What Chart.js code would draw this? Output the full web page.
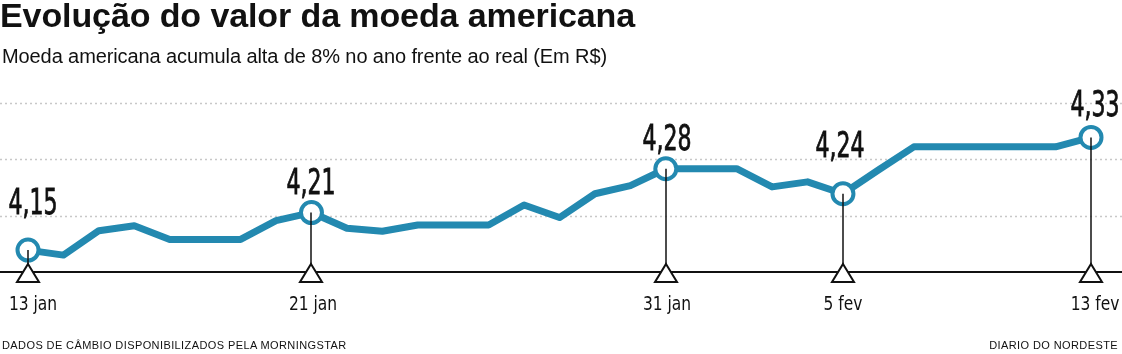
<!DOCTYPE html>
<html lang="pt-BR">
<head>
<meta charset="utf-8">
<script src="https://cdn.jsdelivr.net/npm/chart.js@4.4.1/dist/chart.umd.min.js"></script>
<style>
body { margin: 0; background: #fff; }
#wrap { position: relative; width: 1122px; height: 354px; overflow: hidden; }
#wrap canvas { position: absolute; left: 0; top: 0; }
.titulo { position: absolute; left: 0; top: -4px; font: 700 34px "Liberation Sans", Arial, sans-serif; letter-spacing: -0.1px; color: #111; white-space: nowrap; }
.sub { position: absolute; left: 2px; top: 45px; font: 400 20px "Liberation Sans", Arial, sans-serif; letter-spacing: -0.1px; color: #111; white-space: nowrap; }
.fonte { position: absolute; top: 339px; font: 400 11px "Liberation Sans", Arial, sans-serif; letter-spacing: 0.4px; color: #111; white-space: nowrap; }
</style>
</head>
<body>
<div id="wrap">
    <canvas id="dolar" width="1122" height="354"></canvas>
    <div class="titulo">Evolução do valor da moeda americana</div>
    <div class="sub">Moeda americana acumula alta de 8% no ano frente ao real (Em R$)</div>
    <div class="fonte" style="left:2px">DADOS DE CÂMBIO DISPONIBILIZADOS PELA MORNINGSTAR</div>
    <div class="fonte" style="right:4px">DIARIO DO NORDESTE</div>
</div>
<script>
// start: Dados
const dias = [
    '13 jan', '14 jan', '15 jan', '16 jan', '17 jan', '18 jan', '19 jan', '20 jan', '21 jan',
    '22 jan', '23 jan', '24 jan', '25 jan', '26 jan', '27 jan', '28 jan', '29 jan', '30 jan', '31 jan',
    '1 fev', '2 fev', '3 fev', '4 fev', '5 fev', '6 fev', '7 fev', '8 fev', '9 fev', '10 fev', '11 fev', '13 fev'
];
const cotacao = [
    4.15, 4.142, 4.181, 4.189, 4.167, 4.167, 4.167, 4.197, 4.21,
    4.185, 4.18, 4.19, 4.19, 4.19, 4.222, 4.202, 4.24, 4.253, 4.28,
    4.28, 4.28, 4.251, 4.259, 4.24, 4.278, 4.315, 4.315, 4.315, 4.315, 4.315, 4.33
];
const destaques = [0, 8, 18, 23, 30];
const gradeValores = [4.115, 4.205, 4.295, 4.385];
// end: Dados

const azul = '#2389b0';
const fonteEstreita = '"DejaVu Sans Condensed", "Liberation Sans", sans-serif';
const rotuloSobe = [36, 19, 19, 37, 21];
const rotuloDx = [5, 0, 1, -3, 4];
const dataDx = [5, 2, 1, 0, 4];

const marcadores = {
    id: 'marcadores',
    beforeDatasetsDraw(chart) {
        const { ctx, scales: { y } } = chart;
        ctx.save();
        ctx.strokeStyle = '#c8c8c8';
        ctx.lineWidth = 1.5;
        ctx.setLineDash([2, 3]);
        gradeValores.slice(1).forEach(function (v) {
            const py = Math.round(y.getPixelForValue(v)) + 0.5;
            ctx.beginPath();
            ctx.moveTo(0, py);
            ctx.lineTo(chart.width, py);
            ctx.stroke();
        });
        ctx.setLineDash([]);
        ctx.strokeStyle = '#111';
        ctx.lineWidth = 2;
        const base = Math.round(y.getPixelForValue(gradeValores[0]));
        ctx.beginPath();
        ctx.moveTo(0, base);
        ctx.lineTo(chart.width, base);
        ctx.stroke();
        ctx.restore();
    },
    afterDatasetsDraw(chart) {
        const { ctx, scales: { x, y } } = chart;
        const base = Math.round(y.getPixelForValue(gradeValores[0]));
        ctx.save();
        destaques.forEach(function (i, k) {
            const px = Math.round(x.getPixelForValue(i));
            const py = y.getPixelForValue(cotacao[i]);
            // haste
            ctx.strokeStyle = '#111';
            ctx.lineWidth = 1.5;
            ctx.beginPath();
            ctx.moveTo(px, py);
            ctx.lineTo(px, base);
            ctx.stroke();
            // triangulo
            ctx.beginPath();
            ctx.moveTo(px, base - 8);
            ctx.lineTo(px + 11, base + 10);
            ctx.lineTo(px - 11, base + 10);
            ctx.closePath();
            ctx.fillStyle = '#fff';
            ctx.fill();
            ctx.lineWidth = 2;
            ctx.stroke();
            ctx.fillStyle = '#111';
            ctx.textAlign = 'center';
            ctx.textBaseline = 'alphabetic';
            // valor
            ctx.save();
            ctx.translate(px + rotuloDx[k], py - rotuloSobe[k]);
            ctx.scale(0.7, 1);
            ctx.font = '35px ' + fonteEstreita;
            ctx.lineWidth = 0.8;
            ctx.strokeStyle = '#111';
            const txt = cotacao[i].toFixed(2).replace('.', ',');
            ctx.fillText(txt, 0, 0);
            ctx.strokeText(txt, 0, 0);
            ctx.restore();
            // data
            ctx.save();
            ctx.translate(px + dataDx[k], base + 38);
            ctx.scale(0.86, 1);
            ctx.font = '20px ' + fonteEstreita;
            ctx.fillText(dias[i], 0, 0);
            ctx.restore();
        });
        ctx.restore();
    }
};

new Chart(document.getElementById('dolar'), {
    type: 'line',
    data: {
        labels: dias,
        datasets: [
            {
                data: cotacao,
                borderColor: azul,
                borderWidth: 7,
                borderJoinStyle: 'round',
                tension: 0,
                clip: false,
                pointRadius: dias.map((d, i) => destaques.includes(i) ? 10.5 : 0),
                pointBorderWidth: 4,
                pointBorderColor: azul,
                pointBackgroundColor: '#fff'
            }
        ]
    },
    options: {
        responsive: false,
        devicePixelRatio: 1,
        animation: false,
        events: [],
        layout: {
            padding: { left: 28, right: 31, top: 103, bottom: 82 }
        },
        plugins: {
            legend: { display: false },
            tooltip: { enabled: false }
        },
        scales: {
            x: { display: false },
            y: {
                display: false,
                min: gradeValores[0],
                max: gradeValores[gradeValores.length - 1]
            }
        }
    },
    plugins: [marcadores]
});
</script>
</body>
</html>
